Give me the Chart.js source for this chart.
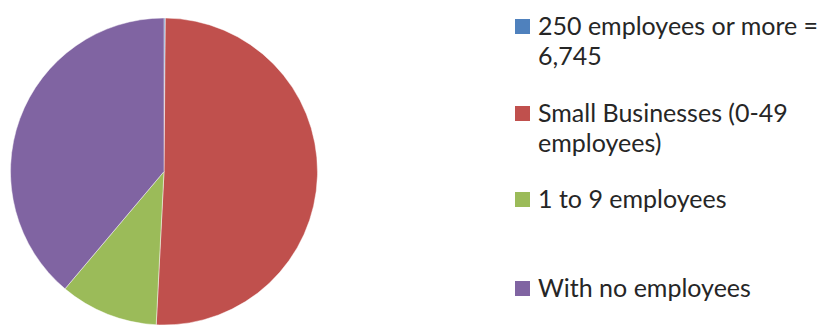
<!DOCTYPE html>
<html>
<head>
<meta charset="utf-8">
<script src="https://cdn.jsdelivr.net/npm/chart.js@4"></script>
<style>
    html, body { margin: 0; padding: 0; background: #fff; overflow: hidden; }
    body { width: 826px; height: 327px; position: relative; }
    #pie-box { position: absolute; left: 10px; top: 16px; width: 308px; height: 311px; }
    .legend-item { position: absolute; left: 515px; font-family: Lato, sans-serif; font-size: 25px; line-height: 30px; color: #262626; }
    .legend-item .swatch { position: absolute; left: 0; width: 15px; height: 15px; }
    .legend-item .label { position: absolute; left: 23px; white-space: nowrap; }
</style>
</head>
<body>
<div id="pie-box"><canvas id="pieChart"></canvas></div>
<div id="legend"></div>
<script>
// categories, in drawing order (clockwise from 12 o'clock)
const categories = ['250 employees or more = 6,745', 'Small Businesses (0-49 employees)', '1 to 9 employees', 'With no employees'];
// legend text, broken the way the reference wraps it
const legendLines = [
    ['250 employees or more =', '6,745'],
    ['Small Businesses (0-49', 'employees)'],
    ['1 to 9 employees'],
    ['With no employees']
];
// business counts
const businessCounts = [6745, 2400000, 490000, 1840000];
const sliceColors = ['#4F81BD', '#C0504D', '#9BBB59', '#8064A2'];

// top of each legend entry
const legendTops = [10, 97, 183, 272];

const pieData = {
    labels: categories,
    datasets: [{
        data: businessCounts,
        backgroundColor: sliceColors,
        borderColor: 'rgba(255, 255, 255, 0.45)',
        borderWidth: 1
    }]
};

const configPie = {
    type: 'pie',
    data: pieData,
    options: {
        responsive: true,
        maintainAspectRatio: false,
        animation: false,
        layout: { padding: 0 },
        plugins: {
            legend: { display: false },
            tooltip: { enabled: false }
        }
    }
};

const pieChart = new Chart(
    document.getElementById('pieChart'),
    configPie
);

var legend = document.getElementById('legend');
legendLines.forEach(function(lines, i) {
    var item = document.createElement('div');
    item.className = 'legend-item';
    item.style.top = legendTops[i] + 'px';
    var swatch = document.createElement('span');
    swatch.className = 'swatch';
    swatch.style.background = sliceColors[i];
    swatch.style.top = '9px';
    var label = document.createElement('span');
    label.className = 'label';
    label.innerHTML = lines.join('<br>');
    item.appendChild(swatch);
    item.appendChild(label);
    legend.appendChild(item);
});
</script>
</body>
</html>
